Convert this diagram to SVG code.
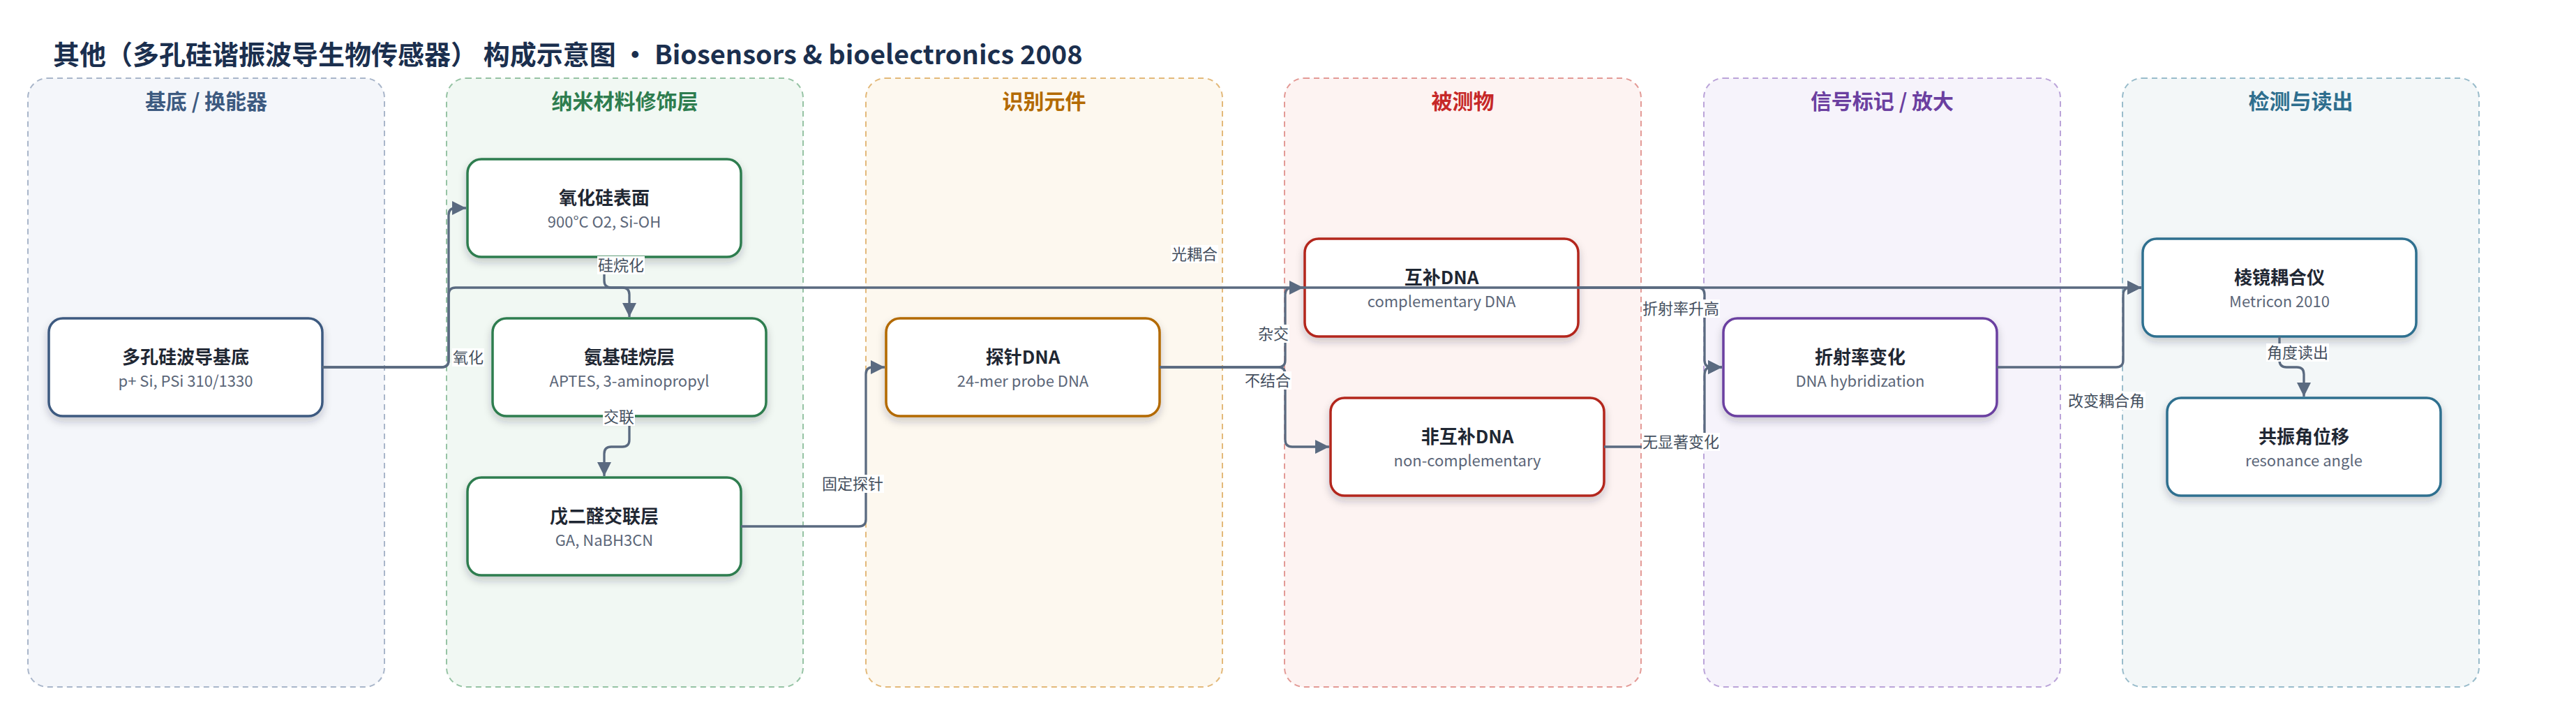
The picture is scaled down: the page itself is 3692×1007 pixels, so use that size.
<svg xmlns="http://www.w3.org/2000/svg" width="3692" height="1007" viewBox="0 0 3692 1007">
<defs>
<style>
text{font-family:"Noto Sans CJK SC","Noto Sans",sans-serif}
.title{font-size:38px;font-weight:700;fill:#1b2f4e}
.lane{stroke-width:2;stroke-dasharray:8 6}
.lh{font-size:30px;font-weight:700;text-anchor:middle}
.node rect{fill:#fff;stroke-width:3.5;filter:url(#sh)}
.nt{font-size:26px;font-weight:700;fill:#1f2733;text-anchor:middle}
.ns{font-size:22px;fill:#5b6678;text-anchor:middle}
.edge{fill:none;stroke:#5a6a80;stroke-width:3.3;marker-end:url(#ah)}
.lbg{fill:#fff}
.lt{font-size:22px;fill:#444f5e;text-anchor:middle}
</style>
<filter id="sh" x="-10%" y="-20%" width="120%" height="150%">
<feDropShadow dx="0" dy="6" stdDeviation="6" flood-color="#1e293b" flood-opacity="0.22"/>
</filter>
<marker id="ah" markerUnits="userSpaceOnUse" markerWidth="20" markerHeight="20" refX="20" refY="10" orient="auto">
<path d="M0,0 L20,10 L0,20 z" fill="#5a6a80"/>
</marker>
</defs>
<rect width="3692" height="1007" fill="#fff"/>
<text class="title" x="76" y="92">其他（多孔硅谐振波导生物传感器） 构成示意图 • Biosensors &amp; bioelectronics 2008</text>

<g id="lanes">
<g id="lane1"><rect class="lane" x="40" y="112" width="511" height="872" rx="28" fill="#f4f6fa" stroke="#a9b6ca"/><text class="lh" x="295.5" y="156" fill="#3d5a80">基底 / 换能器</text></g>
<g id="lane2"><rect class="lane" x="640" y="112" width="511" height="872" rx="28" fill="#f1f8f3" stroke="#96c3a4"/><text class="lh" x="895.5" y="156" fill="#2e7d4f">纳米材料修饰层</text></g>
<g id="lane3"><rect class="lane" x="1241" y="112" width="511" height="872" rx="28" fill="#fdf8ef" stroke="#e3b97a"/><text class="lh" x="1496.5" y="156" fill="#b36a00">识别元件</text></g>
<g id="lane4"><rect class="lane" x="1841" y="112" width="511" height="872" rx="28" fill="#fdf3f2" stroke="#e39a96"/><text class="lh" x="2096.5" y="156" fill="#c62828">被测物</text></g>
<g id="lane5"><rect class="lane" x="2442" y="112" width="511" height="872" rx="28" fill="#f6f3fb" stroke="#bba4d9"/><text class="lh" x="2697.5" y="156" fill="#6b3fa0">信号标记 / 放大</text></g>
<g id="lane6"><rect class="lane" x="3042" y="112" width="511" height="872" rx="28" fill="#f3f7f8" stroke="#99bccb"/><text class="lh" x="3297.5" y="156" fill="#2e6e8e">检测与读出</text></g>
</g>

<g id="nodes">
<g id="nA" class="node"><rect x="70" y="456" width="392" height="140" rx="20" stroke="#3d5a80"/><text class="nt" x="266" y="521">多孔硅波导基底</text><text class="ns" x="266" y="554">p+ Si, PSi 310/1330</text></g>
<g id="nB" class="node"><rect x="670" y="228" width="392" height="140" rx="20" stroke="#2e7d4f"/><text class="nt" x="866" y="293">氧化硅表面</text><text class="ns" x="866" y="326">900°C O2, Si-OH</text></g>
<g id="nC" class="node"><rect x="706" y="456" width="392" height="140" rx="20" stroke="#2e7d4f"/><text class="nt" x="902" y="521">氨基硅烷层</text><text class="ns" x="902" y="554">APTES, 3-aminopropyl</text></g>
<g id="nD" class="node"><rect x="670" y="684" width="392" height="140" rx="20" stroke="#2e7d4f"/><text class="nt" x="866" y="749">戊二醛交联层</text><text class="ns" x="866" y="782">GA, NaBH3CN</text></g>
<g id="nE" class="node"><rect x="1270" y="456" width="392" height="140" rx="20" stroke="#b36a00"/><text class="nt" x="1466" y="521">探针DNA</text><text class="ns" x="1466" y="554">24-mer probe DNA</text></g>
<g id="nF" class="node"><rect x="1870" y="342" width="392" height="140" rx="20" stroke="#b3261e"/><text class="nt" x="2066" y="407">互补DNA</text><text class="ns" x="2066" y="440">complementary DNA</text></g>
<g id="nG" class="node"><rect x="1907" y="570" width="392" height="140" rx="20" stroke="#b3261e"/><text class="nt" x="2103" y="635">非互补DNA</text><text class="ns" x="2103" y="668">non-complementary</text></g>
<g id="nH" class="node"><rect x="2470" y="456" width="392" height="140" rx="20" stroke="#6b3fa0"/><text class="nt" x="2666" y="521">折射率变化</text><text class="ns" x="2666" y="554">DNA hybridization</text></g>
<g id="nI" class="node"><rect x="3071" y="342" width="392" height="140" rx="20" stroke="#2f6f8f"/><text class="nt" x="3267" y="407">棱镜耦合仪</text><text class="ns" x="3267" y="440">Metricon 2010</text></g>
<g id="nJ" class="node"><rect x="3106" y="570" width="392" height="140" rx="20" stroke="#2f6f8f"/><text class="nt" x="3302" y="635">共振角位移</text><text class="ns" x="3302" y="668">resonance angle</text></g>
</g>

<g id="connectors">
<path class="edge" d="M462,526 H633 Q643,526 643,516 V308 Q643,298 653,298 H668"/>
<path class="edge" d="M462,526 H633 Q643,526 643,516 V422 Q643,412 653,412 H3069"/>
<path class="edge" d="M866,368 V402 Q866,412 876,412 H892 Q902,412 902,422 V454"/>
<path class="edge" d="M902,596 V630 Q902,640 892,640 H876 Q866,640 866,650 V682"/>
<path class="edge" d="M1062,754 H1231 Q1241,754 1241,744 V536 Q1241,526 1251,526 H1268"/>
<path class="edge" d="M1662,526 H1832 Q1842,526 1842,516 V422 Q1842,412 1852,412 H1868"/>
<path class="edge" d="M1662,526 H1832 Q1842,526 1842,536 V630 Q1842,640 1852,640 H1905"/>
<path class="edge" d="M2262,412 H2433 Q2443,412 2443,422 V516 Q2443,526 2453,526 H2468"/>
<path class="edge" d="M2299,640 H2433 Q2443,640 2443,630 V536 Q2443,526 2453,526 H2468"/>
<path class="edge" d="M2862,526 H3033 Q3043,526 3043,516 V422 Q3043,412 3053,412 H3069"/>
<path class="edge" d="M3267,482 V516 Q3267,526 3277,526 H3292 Q3302,526 3302,536 V568"/>
<g id="labels">
<rect class="lbg" x="648" y="499" width="46" height="26"/><text class="lt" x="671" y="520">氧化</text>
<rect class="lbg" x="1678" y="351" width="68" height="26"/><text class="lt" x="1712" y="372">光耦合</text>
<rect class="lbg" x="856" y="367" width="68" height="26"/><text class="lt" x="890" y="388">硅烷化</text>
<rect class="lbg" x="864" y="584" width="46" height="26"/><text class="lt" x="887" y="605">交联</text>
<rect class="lbg" x="1177" y="680" width="90" height="26"/><text class="lt" x="1222" y="701">固定探针</text>
<rect class="lbg" x="1802" y="465" width="46" height="26"/><text class="lt" x="1825" y="486">杂交</text>
<rect class="lbg" x="1783" y="532" width="68" height="26"/><text class="lt" x="1817" y="553">不结合</text>
<rect class="lbg" x="2353" y="429" width="112" height="26"/><text class="lt" x="2409" y="450">折射率升高</text>
<rect class="lbg" x="2353" y="620" width="112" height="26"/><text class="lt" x="2409" y="641">无显著变化</text>
<rect class="lbg" x="2963" y="561" width="112" height="26"/><text class="lt" x="3019" y="582">改变耦合角</text>
<rect class="lbg" x="3248" y="492" width="90" height="26"/><text class="lt" x="3293" y="513">角度读出</text>
</g>
</g>
</svg>
